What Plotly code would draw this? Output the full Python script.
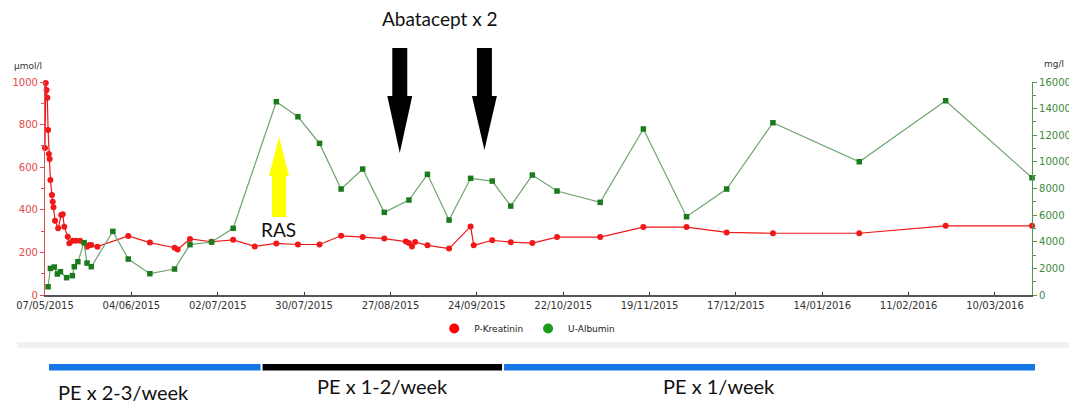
import plotly.graph_objects as go

# ---------------- data ----------------
kreat_dates = [
    "2015-05-07 00:00", "2015-05-07 06:00", "2015-05-07 12:00", "2015-05-07 18:00",
    "2015-05-08 00:00", "2015-05-08 06:00", "2015-05-08 12:00", "2015-05-08 18:00",
    "2015-05-09 06:00", "2015-05-09 12:00", "2015-05-09 18:00", "2015-05-10 06:00",
    "2015-05-11 06:00", "2015-05-12 06:00", "2015-05-12 18:00", "2015-05-13 06:00",
    "2015-05-14 09:00", "2015-05-14 21:00", "2015-05-16", "2015-05-17",
    "2015-05-18 09:00", "2015-05-20 15:00", "2015-05-21 09:00", "2015-05-22",
    "2015-05-24", "2015-06-03", "2015-06-10", "2015-06-18", "2015-06-19",
    "2015-06-23", "2015-06-30", "2015-07-07", "2015-07-14", "2015-07-21",
    "2015-07-28", "2015-08-04", "2015-08-11", "2015-08-18", "2015-08-25",
    "2015-09-01", "2015-09-02", "2015-09-03", "2015-09-04", "2015-09-08",
    "2015-09-15", "2015-09-22", "2015-09-23", "2015-09-29", "2015-10-05",
    "2015-10-12", "2015-10-20", "2015-11-03", "2015-11-17", "2015-12-01",
    "2015-12-14", "2015-12-29", "2016-01-26", "2016-02-23", "2016-03-22",
]
kreat_values = [
    690, 995, 962, 926,
    775, 662, 638, 540,
    469, 438, 412, 349,
    313, 376, 379, 321,
    274, 243, 255, 255,
    255, 227, 235, 235,
    227, 277, 246, 222, 214,
    263, 250, 259, 228, 242,
    237, 237, 278, 272, 265,
    251, 244, 228, 249, 233,
    218, 322, 233, 257, 248,
    244, 272, 272, 319, 319,
    294, 290, 290, 325, 325,
]

alb_dates = [
    "2015-05-08 00:00", "2015-05-08 18:00", "2015-05-10", "2015-05-11",
    "2015-05-12", "2015-05-14", "2015-05-15 21:00", "2015-05-16 12:00",
    "2015-05-17 16:00", "2015-05-19 16:00", "2015-05-20 15:00", "2015-05-22",
    "2015-05-29", "2015-06-03", "2015-06-10", "2015-06-18", "2015-06-23",
    "2015-06-30", "2015-07-07", "2015-07-21", "2015-07-28", "2015-08-04",
    "2015-08-11", "2015-08-18", "2015-08-25", "2015-09-02", "2015-09-08",
    "2015-09-15", "2015-09-22", "2015-09-29", "2015-10-05", "2015-10-12",
    "2015-10-20", "2015-11-03", "2015-11-17", "2015-12-01", "2015-12-14",
    "2015-12-29", "2016-01-26", "2016-02-23", "2016-03-22",
]
alb_values = [
    620, 2000, 2100, 1580,
    1750, 1300, 1450, 2125,
    2500, 3930, 2400, 2125,
    4780, 2700, 1600, 1950, 3780,
    3980, 5010, 14520, 13390, 11390,
    7960, 9460, 6210, 7135, 9065,
    5630, 8765, 8560, 6680, 9010,
    7810, 6960, 12470, 5880, 7960,
    12940, 10010, 14590, 8810,
]

series_names = ["P-Kreatinin", "U-Albumin"]
left_ticks = [0, 200, 400, 600, 800, 1000]
right_ticks = [0, 2000, 4000, 6000, 8000, 10000, 12000, 14000, 16000]
pe_labels = ["PE x 2-3/week", "PE x 1-2/week", "PE x 1/week"]

# ---------------- layout helpers ----------------
W, H = 1084, 407
PL, PR, PT, PB = 43, 1032, 82, 295  # plot area in pixels


def px(x):
    return (x - PL) / (PR - PL)


def py(y):
    return (PB - y) / (PB - PT)


def poly(points):
    return "M " + " L ".join(f"{px(x):.5f},{py(y):.5f}" for x, y in points) + " Z"


RED = "#f01818"
GREEN_LINE = "#6fa36f"
GREEN_MK = "#1b7a1b"

fig = go.Figure()
fig.add_trace(go.Scatter(
    x=kreat_dates, y=kreat_values, mode="lines+markers", name=series_names[0],
    line=dict(color=RED, width=1.2), marker=dict(color=RED, size=6, symbol="circle"),
    showlegend=False, cliponaxis=False, yaxis="y",
))
fig.add_trace(go.Scatter(
    x=alb_dates, y=alb_values, mode="lines+markers", name=series_names[1],
    line=dict(color=GREEN_LINE, width=1.2),
    marker=dict(color=GREEN_MK, size=5.5, symbol="square"),
    showlegend=False, cliponaxis=False, yaxis="y2",
))
# legend entries
fig.add_trace(go.Scatter(x=[None], y=[None], mode="markers", name=series_names[0],
                         marker=dict(color="#ff0000", size=10, symbol="circle")))
fig.add_trace(go.Scatter(x=[None], y=[None], mode="markers", name=series_names[1],
                         marker=dict(color="#1a9a1a", size=10, symbol="circle")))

shapes = []
# Abatacept arrows (black, pointing down)
for cx, tip in [(398.5, 153), (483.3, 150)]:
    shapes.append(dict(
        type="path", xref="paper", yref="paper", layer="above",
        path=poly([(cx - 7.5, 48), (cx + 7.5, 48), (cx + 7.5, 96), (cx + 12.5, 96),
                   (cx, tip), (cx - 12.5, 96), (cx - 7.5, 96)]),
        fillcolor="black", line=dict(width=0),
    ))
# RAS arrow (yellow, pointing up)
shapes.append(dict(
    type="path", xref="paper", yref="paper", layer="above",
    path=poly([(270.5, 217), (284.5, 217), (284.5, 176), (287.5, 176),
               (277.5, 137), (267.5, 176), (270.5, 176)]),
    fillcolor="#ffff00", line=dict(width=0),
))
# light grey band
shapes.append(dict(type="rect", xref="paper", yref="paper",
                   x0=px(15), x1=px(1069), y0=py(348), y1=py(342),
                   fillcolor="#f1f1f1", line=dict(width=0)))
# PE bars
for x0, x1, col in [(47, 259, "#1577e6"), (261, 501, "#000000"), (503, 1035, "#1577e6")]:
    shapes.append(dict(type="rect", xref="paper", yref="paper",
                       x0=px(x0), x1=px(x1), y0=py(370.5), y1=py(364),
                       fillcolor=col, line=dict(width=0)))

TXT = "Lato, 'Open Sans', sans-serif"


def label(text, x, y, size, family=TXT, color="#111"):
    return dict(text=text, x=px(x), y=py(y), xref="paper", yref="paper",
                xanchor="center", yanchor="middle", showarrow=False,
                font=dict(family=family, size=size, color=color))


annotations = [
    label("Abatacept x 2", 439, 19, 19),
    label("RAS", 277, 229, 19),
    label("µmol/l", 26, 66, 9, "DejaVu Sans", "#333"),
    label("mg/l", 1054, 64, 9, "DejaVu Sans", "#333"),
    label(pe_labels[0], 122, 392, 20),
    label(pe_labels[1], 381, 386, 20),
    label(pe_labels[2], 718, 386, 20),
]

fig.update_layout(
    width=W, height=H, autosize=False,
    margin=dict(l=PL, r=W - PR, t=PT, b=H - PB, pad=0),
    paper_bgcolor="white", plot_bgcolor="white",
    font=dict(family="DejaVu Sans", size=10, color="#333"),
    xaxis=dict(
        type="date", range=["2015-05-07", "2016-03-22"],
        tick0="2015-05-07", dtick=28 * 86400000, tickformat="%d/%m/%Y",
        showgrid=False, zeroline=False, showline=True, linecolor="#555", linewidth=1.5,
        ticks="inside", ticklen=3, tickcolor="#333",
        tickfont=dict(family="DejaVu Sans", size=10, color="#333"),
    ),
    yaxis=dict(
        range=[0, 1000], tickvals=left_ticks, tickformat="d", showgrid=False, zeroline=False,
        showline=True, linecolor="#e05050", linewidth=1.2,
        ticks="outside", ticklen=4, tickcolor="#e05050",
        minor=dict(dtick=100, ticks="outside", ticklen=3, tickcolor="#e05050"),
        tickfont=dict(family="DejaVu Sans", size=10, color="#e04848"),
    ),
    yaxis2=dict(
        range=[0, 16000], tickvals=right_ticks, tickformat="d", overlaying="y", side="right",
        showgrid=False, zeroline=False, showline=True, linecolor="#4c9a4c", linewidth=1.2,
        ticks="outside", ticklen=4, tickcolor="#4c9a4c",
        minor=dict(dtick=1000, ticks="outside", ticklen=3, tickcolor="#4c9a4c"),
        tickfont=dict(family="DejaVu Sans", size=10, color="#3d8a3d"),
    ),
    legend=dict(orientation="h", x=px(433), y=py(314), xanchor="left", yanchor="top",
                font=dict(family="DejaVu Sans", size=9, color="#222"),
                itemwidth=30, bgcolor="rgba(0,0,0,0)", tracegroupgap=0),
    shapes=shapes, annotations=annotations,
)

post = (
    "document.documentElement.style.margin='0px';"
    "document.body.style.margin='0px';"
    "document.documentElement.style.overflow='hidden';"
    "document.body.style.overflow='hidden';"
)
fig.write_html("out.html", post_script=post,
               config={"displayModeBar": False, "responsive": False})
